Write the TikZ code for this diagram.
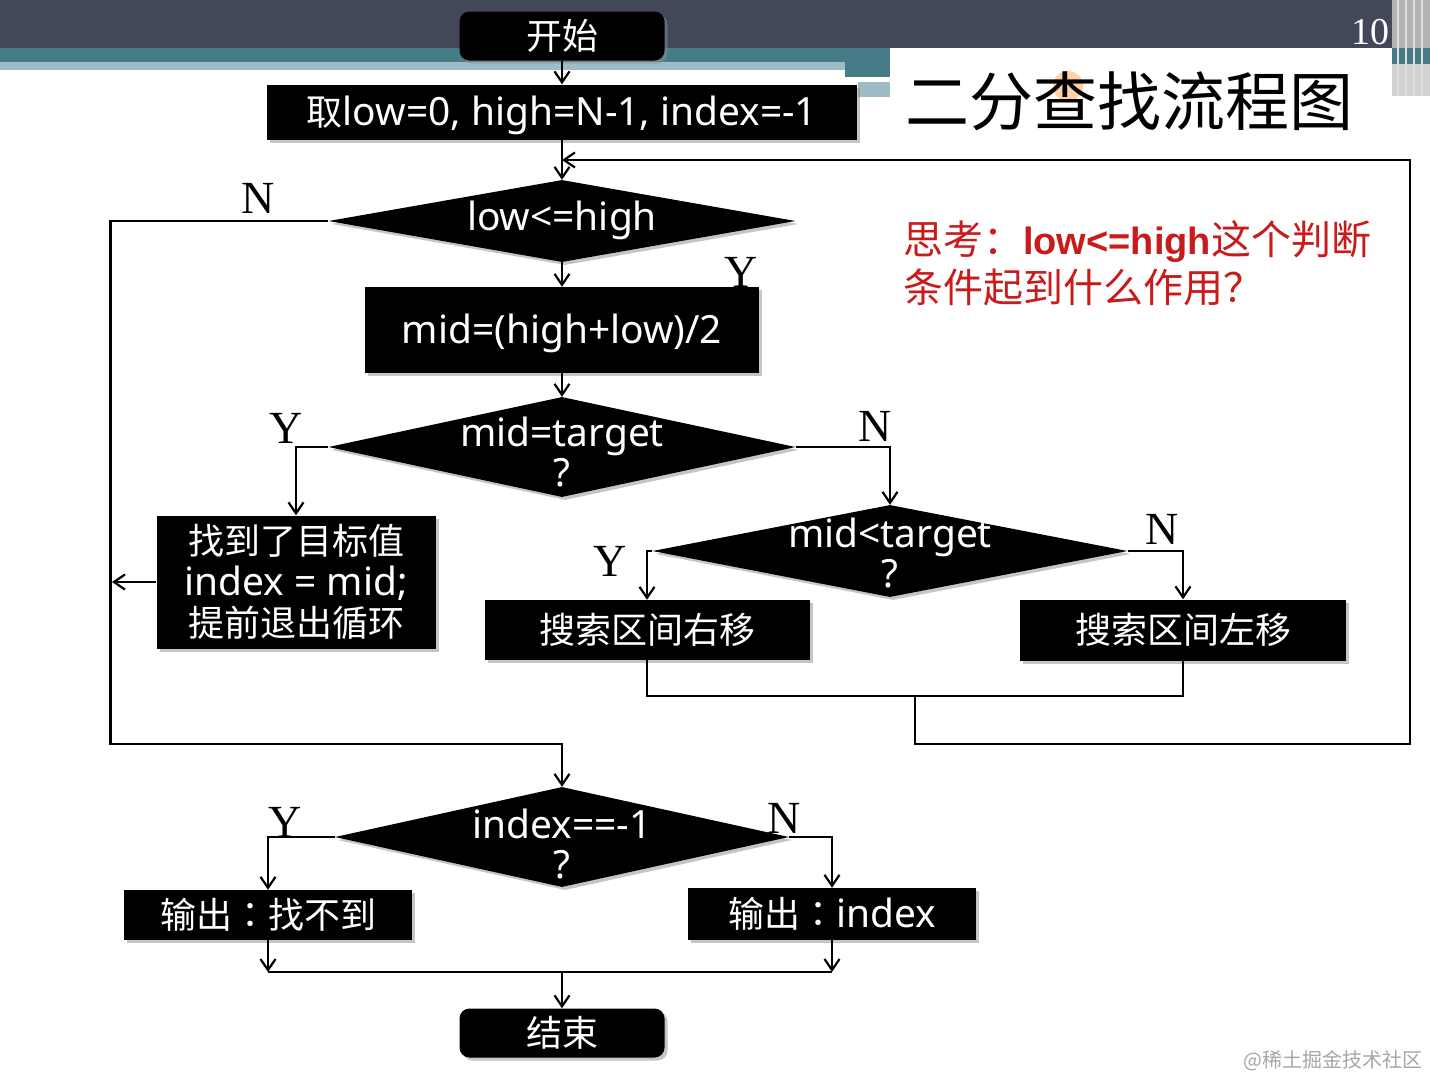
\documentclass[tikz,border=0pt]{standalone}
\usepackage{fontspec}
\setmainfont{Noto Sans CJK SC}
\newfontfamily\lat[Scale=1.08]{Noto Sans}
\newfontfamily\tcfont{Noto Sans CJK TC}
\newfontfamily\ynfont{Liberation Serif}
\newfontfamily\latbold{Liberation Sans}
\usetikzlibrary{shapes.geometric, positioning, arrows.meta, shadows}

\definecolor{hdrdark}{RGB}{66,72,90}
\definecolor{hdrteal}{RGB}{70,124,136}
\definecolor{hdrlight}{RGB}{158,188,198}
\definecolor{thinkred}{RGB}{200,28,28}

\tikzset{
  box/.style={rectangle, fill=black, text=white, inner sep=0pt,
    font=\fontsize{36}{41}\selectfont, align=center,
    drop shadow={shadow xshift=3pt, shadow yshift=-3pt, fill=black!45, opacity=.5}},
  term/.style={box, rounded corners=10pt, minimum width=205pt, minimum height=49pt},
  dec/.style={diamond, fill=black, inner sep=0pt,
    drop shadow={shadow xshift=3pt, shadow yshift=-3pt, fill=black!45, opacity=.5}},
  dtext/.style={text=white, inner sep=0pt, align=center, font=\lat\fontsize{36}{40}\selectfont},
  yn/.style={inner sep=0pt, font=\ynfont\fontsize{46}{46}\selectfont},
  line/.style={line width=2.4pt},
  arr/.style={line, -{Straight Barb[length=11pt, width=15pt, line width=2.2pt]}}
}
\newcommand{\lowertxt}[1]{\raisebox{-3pt}[\height][\depth]{#1}}

\begin{document}
\begin{tikzpicture}[x=1pt, y=1pt, on grid]
\useasboundingbox (0,0) rectangle (1430,-1079);
\fill[white] (0,0) rectangle (1430,-1079);

% slide header
\fill[hdrdark] (0,0) rectangle (1430,-48);
\fill[hdrteal] (0,-48) rectangle (890,-62);
\fill[hdrlight] (0,-62) rectangle (845,-70);
\fill[hdrteal] (845,-48) rectangle (890,-77);
\fill[hdrlight] (858,-82) rectangle (890,-97);
\fill[hdrteal] (1392,-48) rectangle (1430,-64);
\fill[gray!60] (1392,0) rectangle (1430,-48);
\fill[gray!35] (1392,-64) rectangle (1430,-96);
\foreach \sx in {1398,1406,1414,1422}
  \draw[white!75!gray, line width=1.5pt] (\sx,0) -- (\sx,-96);
\node[inner sep=0pt, text=white, font=\ynfont\fontsize{38}{38}\selectfont] (pageno) at (1370,-32) {10};

% title
\fill[orange!60, opacity=.6] (1068,-86) circle (15);
\node[inner sep=0pt, anchor=west, font=\fontsize{64}{64}\selectfont] (title) at (905,-101) {二分查找流程图};
\node[inner sep=0pt, anchor=north west, align=left, text=thinkred,
  font=\fontsize{40}{48}\selectfont] (think) at (903,-220)
  {思考：{\latbold\bfseries\fontsize{38}{48}\selectfont low<=high}这个判断\\条件起到什么作用？};

% main column
\node[term] (start) at (562,-36) {开始};
\node[box, minimum width=590pt, minimum height=55pt, below=76pt of start] (init)
  {\lowertxt{取{\lat low=0, high=N-1, index=-1}}};
\node[dec, minimum width=467pt, minimum height=82pt, below=109pt of init,
  label={[dtext, yshift=1pt]center:low<=high}] (d1) {};
\node[box, minimum width=394pt, minimum height=86pt, below=109pt of d1] (mid)
  {\lowertxt{\lat mid=(high+low)/2}};
\node[dec, minimum width=467pt, minimum height=100pt, below=117pt of mid,
  label={[dtext, yshift=-5pt]center:mid=target\\?}] (d2) {};

% branches
\node[box, minimum width=279pt, minimum height=133pt] (found) at (296,-582)
  {找到了目标值\\{\lat index = mid;}\\提前退出循环};
\node[dec, minimum width=475pt, minimum height=92pt,
  label={[dtext, yshift=-2pt]center:mid<target\\?}] (d3) at (890,-551) {};
\node[box, minimum width=325pt, minimum height=60pt] (rbox) at (647,-630) {搜索区间右移};
\node[box, minimum width=326pt, minimum height=61pt] (lbox) at (1183,-630) {搜索区间左移};

% output part
\node[dec, minimum width=454pt, minimum height=100pt,
  label={[dtext, yshift=-7pt]center:index==-1\\?}] (d4) at (562,-837) {};
\node[box, minimum width=288pt, minimum height=50pt] (out1) at (268,-915) {输出{\tcfont ：}找不到};
\node[box, minimum width=288pt, minimum height=52pt] (out2) at (832,-914) {输出{\tcfont ：}{\lat index}};
\node[term] (end) at (562,-1033) {结束};

% Y / N
\node[yn] (n1) at (258,-198) {N};
\node[yn] (y1) at (741,-272) {Y};
\node[yn] (y2) at (286,-428) {Y};
\node[yn] (n2) at (875,-426) {N};
\node[yn] (y3) at (610,-561) {Y};
\node[yn] (n3) at (1162,-529) {N};
\node[yn] (y4) at (285,-822) {Y};
\node[yn] (n4) at (784,-818) {N};

\coordinate (loopin) at (562,-160);
\coordinate (merge) at (915,-696);
\coordinate (leftbus) at (112,-582);
\coordinate (busL) at (268,-972);
\coordinate (busR) at (832,-972);
\coordinate (busM) at (562,-972);

\draw[arr] (start) -- (init);
\draw[arr] (init) -- (d1);
\draw[arr] (d1) -- (mid);
\draw[arr] (mid) -- (d2);
\draw[arr] (d1.west) -| ++(-218,-523) -| (d4.north);
\draw[arr] (d2.west) -| (found.north);
\draw[arr] (d2.east) -| (d3.north);
\draw[arr] (found.west) -- (leftbus);
\draw[arr] (d3.west) -| (rbox.north);
\draw[arr] (d3.east) -| (lbox.north);
\draw[line] (rbox.south) -- ++(0,-36) -| (lbox.south);
\draw[arr] (merge) |- ++(495,-48) |- (loopin);
\draw[arr] (d4.west) -| (out1.north);
\draw[arr] (d4.east) -| (out2.north);
\draw[arr] (out1) -- (busL);
\draw[arr] (out2) -- (busR);
\draw[line] (busL) -- (busR);
\draw[arr] (busM) -- (end);

\node[inner sep=0pt, anchor=east, text=gray!70, font=\fontsize{20}{20}\selectfont] (mark)
  at (1423,-1061) {@稀土掘金技术社区};
\end{tikzpicture}
\end{document}
